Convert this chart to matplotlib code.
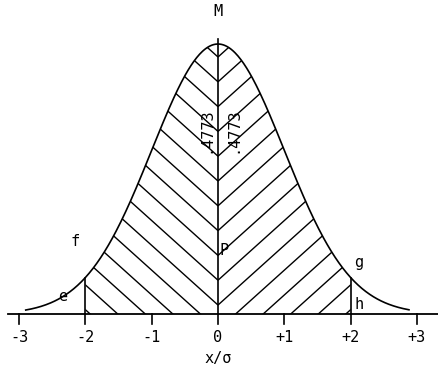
"""
Normal curve with the area between -2 and +2 sigma hatched.
"""

import numpy as np
import matplotlib.pyplot as plt
from matplotlib.collections import LineCollection
from matplotlib.patches import Polygon

# tick positions and labels along the x/sigma axis
tick_pos = [-3, -2, -1, 0, 1, 2, 3]
tick_labels = ["-3", "-2", "-1", "0", "+1", "+2", "+3"]

# the curve: unit normal, scaled to a peak of 1
mean = 0.0
sd = 1.0
curve_range = (-2.9, 2.88)
shade_range = (-2.0, 2.0)

# area on each side of the mean
half_area = ".4773"

# point labels
letters = ["M", "f", "e", "g", "h", "P"]
letter_xy = [(0.0, 1.12), (-2.16, 0.27), (-2.35, 0.065), (2.12, 0.19), (2.12, 0.035), (0.03, 0.237)]

FONT = "DejaVu Sans Mono"


def curve(x):
    return np.exp(-0.5 * ((x - mean) / sd) ** 2)


def main():
    fig = plt.figure(figsize=(4.38, 3.74), dpi=100)
    ax = fig.add_axes([0, 0, 1, 1])
    ax.set_xlim(-3.288, 3.318)
    ax.set_ylim(-0.222, 1.163)
    ax.axis("off")

    x = np.linspace(*curve_range, 400)
    ax.plot(x, curve(x), color="black", lw=1.2)

    # baseline and ticks
    ax.plot([-3.17, 3.4], [0, 0], color="black", lw=1.3)
    for t, lab in zip(tick_pos, tick_labels):
        ax.plot([t, t], [0, -0.036], color="black", lw=1.2)
        ax.text(t, -0.085, lab, ha="center", va="center", fontsize=11, family=FONT)
    ax.text(0, -0.165, "x/σ", ha="center", va="center", fontsize=11, family=FONT)

    # ordinates at -2, 0, +2
    lo, hi = shade_range
    ax.plot([lo, lo], [0, curve(lo)], color="black", lw=1.2)
    ax.plot([hi, hi], [0, curve(hi)], color="black", lw=1.2)
    ax.plot([0, 0], [0, curve(0) + 0.02], color="black", lw=1.2)

    # hatched region, chevrons meeting on the mean line
    xs = np.linspace(lo, hi, 200)
    verts = np.column_stack([np.r_[xs, hi, lo], np.r_[curve(xs), 0, 0]])
    region = Polygon(verts, closed=True, facecolor="none", edgecolor="none")
    ax.add_patch(region)

    slope = 0.9 * 66.3 / 270
    step = 24.8 / 270
    segs = []
    for k in range(-10, 12):
        b = 9 / 270 + k * step
        segs.append([(lo - 0.1, b - slope * (lo - 0.1)), (0, b)])
        segs.append([(0, b), (hi + 0.1, b + slope * (hi + 0.1))])
    hatch = LineCollection(segs, colors="black", linewidths=1.0)
    ax.add_collection(hatch)
    hatch.set_clip_path(region)

    ax.text(-0.19, 0.68, half_area, rotation=90, ha="center", va="center", fontsize=11, family=FONT)
    ax.text(0.23, 0.68, half_area, rotation=90, ha="center", va="center", fontsize=11, family=FONT)

    for s, (lx, ly) in zip(letters, letter_xy):
        ax.text(lx, ly, s, ha="left" if s == "P" else "center", va="center", fontsize=11, family=FONT)

    fig.savefig("out.png", dpi=100, facecolor="white")


if __name__ == "__main__":
    main()
